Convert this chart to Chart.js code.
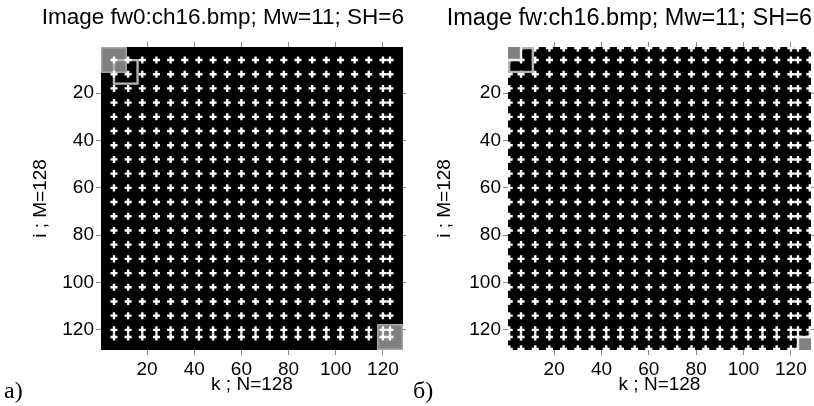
<!DOCTYPE html>
<html><head><meta charset="utf-8">
<script src="https://cdn.jsdelivr.net/npm/chart.js@4"></script>
<style>
html,body{margin:0;padding:0;background:#fff}
body{width:814px;height:406px;overflow:hidden;position:relative}
canvas{position:absolute;top:0}
.lab{position:absolute;font-family:'Liberation Serif','Times New Roman',serif;font-size:24px;line-height:24px;color:#000}
</style></head><body>
<canvas id="ca" width="407" height="406" style="left:0"></canvas>
<canvas id="cb" width="407" height="406" style="left:407px"></canvas>
<div class="lab" style="left:4px;top:378px">a)</div>
<div class="lab" style="left:413px;top:378px">б)</div>
<script>
// ---- data ----
const xTicks = [20, 40, 60, 80, 100, 120];
const yTicks = [20, 40, 60, 80, 100, 120];
const titleA = 'Image fw0:ch16.bmp; Mw=11; SH=6';
const titleB = 'Image fw:ch16.bmp; Mw=11; SH=6';
const xLabel = 'k ; N=128';
const yLabel = 'i ; M=128';
// cross centres (pixel indices) of the white "+" marks
const crossA = [6,12,18,24,30,36,42,48,54,60,66,72,78,84,90,96,102,108,114,120,123];
const crossB = [1,6,12,18,24,30,36,42,48,54,60,66,72,78,84,90,96,102,108,114,120,123,128];
// filled squares: centre k, centre i, side (pixels)
const fillA_k = [6, 123];
const fillA_i = [6, 123];
const fillA_s = [11, 11];
const fillB_k = [1, 128];
const fillB_i = [1, 128];
const fillB_s = [11, 11];
// outline squares: centre k, centre i, side
const lineA_k = [11];
const lineA_i = [11];
const lineA_s = [10];
const lineB_k = [6];
const lineB_i = [6];
const lineB_s = [10];

const FONT = {family: "'Liberation Sans', Arial, Helvetica, sans-serif", size: 19};
const cellPx = ch => Math.abs(ch.scales.x.getPixelForValue(1) - ch.scales.x.getPixelForValue(0));

const bgPlugin = {
  id: 'blackbg',
  beforeDatasetsDraw(ch) {
    const a = ch.chartArea, c = ch.ctx;
    c.save(); c.fillStyle = '#000'; c.fillRect(a.left, a.top, a.right - a.left, a.bottom - a.top); c.restore();
  }
};

function pts(ks, is, ss) { return ks.map((k, j) => ({x: k, y: is[j], s: ss[j]})); }
function crossPts(cols, rows) { const p = []; rows.forEach(r => cols.forEach(c => p.push({x: c, y: r}))); return p; }

function build(id, title, titleSize, cross, fills, fillEdgeW, fillEdgeColor, lines, titlePad, padRight, squaresOnTop) {
  const tickCb = s => { s.ticks = xTicks.map(v => ({value: v})); };
  const tickCbY = s => { s.ticks = yTicks.map(v => ({value: v})); };
  const grid = {drawOnChartArea: false, drawTicks: true, tickLength: 5, color: '#8a8a8a', lineWidth: 1};
  const TFONT = {family: FONT.family, size: titleSize, weight: 'normal'};
  const titleH = TFONT.size * 1.2 + 4;
  const dsFill = { data: fills, pointStyle: 'rect', clip: 0,
        radius: c => (c.raw.s - fillEdgeW) * cellPx(c.chart) / Math.SQRT2,
        borderWidth: c => fillEdgeW * cellPx(c.chart),
        backgroundColor: '#808080', borderColor: fillEdgeColor };
  const dsLine = { data: lines, pointStyle: 'rect', clip: 0,
        radius: c => c.raw.s * cellPx(c.chart) / Math.SQRT2,
        borderWidth: c => cellPx(c.chart),
        backgroundColor: 'rgba(0,0,0,0)', borderColor: '#b4b4b4' };
  const dsCross = { data: crossPts(cross, cross), pointStyle: 'cross', clip: 0,
        radius: c => 1.5 * cellPx(c.chart),
        borderWidth: c => cellPx(c.chart),
        borderColor: '#ffffff' };
  // Chart.js paints the first dataset last (on top)
  const datasets = squaresOnTop ? [dsFill, dsLine, dsCross] : [dsCross, dsLine, dsFill];
  return new Chart(document.getElementById(id), {
    type: 'scatter',
    data: {datasets: datasets},
    options: {
      responsive: false, animation: false, events: [], devicePixelRatio: 1,
      layout: {padding: {left: 0, top: 0, bottom: 0, right: padRight}},
      plugins: {
        legend: {display: false}, tooltip: {enabled: false},
        title: {display: true, text: title, align: 'end', font: TFONT, color: '#000', padding: {top: 4, bottom: 0}}
      },
      scales: {
        x: {type: 'linear', position: 'bottom', min: 0.5, max: 128.5,
            afterBuildTicks: tickCb, afterFit: s => { s.height = 56; },
            ticks: {font: FONT, color: '#000', padding: 3, maxRotation: 0, autoSkip: false},
            grid: grid, border: {display: false},
            title: {display: true, text: xLabel, font: FONT, color: '#000', padding: {top: 0, bottom: 10}}},
        x2: {type: 'linear', position: 'top', min: 0.5, max: 128.5,
            afterBuildTicks: tickCb, afterFit: s => { s.height = 47 - titleH; },
            ticks: {display: false},
            grid: grid, border: {display: false}},
        y: {type: 'linear', position: 'left', min: 0.5, max: 128.5, reverse: true,
            afterBuildTicks: tickCbY, afterFit: s => { s.width = 101; },
            ticks: {font: FONT, color: '#000', padding: 2, autoSkip: false},
            grid: grid, border: {display: false},
            title: {display: true, text: yLabel, font: FONT, color: '#000', padding: {top: titlePad, bottom: 0}}},
        y2: {type: 'linear', position: 'right', min: 0.5, max: 128.5, reverse: true,
            afterBuildTicks: tickCbY, afterFit: s => { s.width = 1; },
            ticks: {display: false},
            grid: Object.assign({}, grid, {tickLength: 3}), border: {display: false}}
      }
    },
    plugins: [bgPlugin]
  });
}

build('ca', titleA, 22.5, crossA, pts(fillA_k, fillA_i, fillA_s), 0.6, '#a8a8a8', pts(lineA_k, lineA_i, lineA_s), 29, 3, false);
build('cb', titleB, 23.5, crossB, pts(fillB_k, fillB_i, fillB_s), 1.0, '#f0f0f0', pts(lineB_k, lineB_i, lineB_s), 26, 2, true);
</script>
</body></html>
